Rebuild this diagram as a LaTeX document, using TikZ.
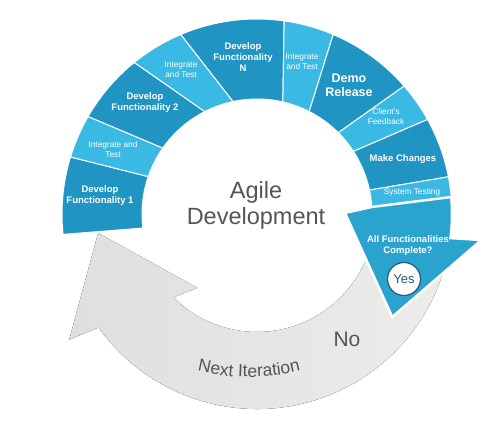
\documentclass[tikz,border=0pt]{standalone}
\usepackage{fontspec}
\setmainfont{Liberation Sans}
\usetikzlibrary{decorations.text}
\definecolor{devblue}{RGB}{32,148,194}
\definecolor{intblue}{RGB}{58,185,228}
\definecolor{askblue}{RGB}{42,164,206}
\definecolor{yesteal}{RGB}{26,96,122}
\definecolor{textgray}{RGB}{85,85,85}
\definecolor{loopdark}{RGB}{223,224,222}
\definecolor{looplight}{RGB}{236,236,235}
\tikzset{
  dev/.style={fill=devblue, draw=white, line width=1pt},
  integ/.style={fill=intblue, draw=white, line width=1pt},
  devlabel/.style={text=white, align=center, font=\fontsize{9.5}{11}\selectfont\bfseries},
  intlabel/.style={text=white, align=center, font=\fontsize{8.3}{10}\selectfont},
}
\begin{document}
\begin{tikzpicture}[x=1pt, y=1pt]
        \useasboundingbox (-257,-227) rectangle (243,214);
        % next iteration loop
        \fill[left color=loopdark, right color=looplight] (-10:195) arc[start angle=-10, end angle=-144.4, radius=195]
            -- (213.8:226) -- (186.8:160) -- (231:95) -- (225:118) arc[start angle=225, end angle=350, radius=118] -- cycle;
        % blue ring
        \draw[dev] (186:195) arc[start angle=186, end angle=163, radius=195] -- (161:115) arc[start angle=161, end angle=187, radius=115] -- cycle;
        \draw[integ] (163:195) arc[start angle=163, end angle=150, radius=195] -- (145:115) arc[start angle=145, end angle=161, radius=115] -- cycle;
        \draw[dev] (150:195) arc[start angle=150, end angle=129, radius=195] -- (117:115) arc[start angle=117, end angle=145, radius=115] -- cycle;
        \draw[integ] (129:195) arc[start angle=129, end angle=113, radius=195] -- (102:115) arc[start angle=102, end angle=117, radius=115] -- cycle;
        \draw[dev] (113:195) arc[start angle=113, end angle=82, radius=195] -- (77:115) arc[start angle=77, end angle=102, radius=115] -- cycle;
        \draw[integ] (82:195) arc[start angle=82, end angle=67, radius=195] -- (63:115) arc[start angle=63, end angle=77, radius=115] -- cycle;
        \draw[dev] (67:195) arc[start angle=67, end angle=41, radius=195] -- (45:115) arc[start angle=45, end angle=63, radius=115] -- cycle;
        \draw[integ] (41:195) arc[start angle=41, end angle=29, radius=195] -- (33:115) arc[start angle=33, end angle=45, radius=115] -- cycle;
        \draw[dev] (29:195) arc[start angle=29, end angle=11, radius=195] -- (12:115) arc[start angle=12, end angle=33, radius=115] -- cycle;
        \draw[integ] (11:195) arc[start angle=11, end angle=5, radius=195] -- (3.5:115) arc[start angle=3.5, end angle=12, radius=115] -- cycle;
        % decision arrow
        \draw[fill=askblue, draw=white, line width=2.5pt, line join=miter] (5:195) arc[start angle=5, end angle=-7.1, radius=195]
            -- (-6.6:226) -- (-37.3:170) -- (0.7:88) -- (3.5:115) -- cycle;
        % labels
        \node[devlabel] (D1) at (-157,18) {Develop\\Functionality 1};
        \node[intlabel] (I1) at (-144,64) {Integrate and\\Test};
        \node[devlabel] (D2) at (-112,111) {Develop\\Functionality 2};
        \node[intlabel] (I2) at (-76,144) {Integrate\\and Test};
        \node[devlabel] (DN) at (-14,157) {Develop\\Functionality\\N};
        \node[intlabel] (I3) at (45,152) {Integrate\\and Test};
        \node[devlabel, font=\fontsize{12.5}{14}\selectfont\bfseries] (R) at (92,129) {Demo\\Release};
        \node[intlabel] (F) at (129,97) {Client’s\\Feedback};
        \node[devlabel] (M) at (146,55) {Make Changes};
        \node[intlabel] (T) at (155,22) {System Testing};
        \node[devlabel] (Q) at (151,-32) {All Functionalities\\Complete?};
        \node[draw=yesteal, fill=white, circle, line width=1.2pt, minimum size=33pt, inner sep=0pt,
              text=yesteal, font=\fontsize{13}{13}\selectfont] (Y) at (147,-65) {Yes};
        \node[text=textgray, align=center, font=\fontsize{23.5}{26}\selectfont] (A) at (-1,9) {Agile\\Development};
        \node[text=textgray, font=\fontsize{21}{21}\selectfont] (N) at (90,-125) {No};
        \path[decorate, decoration={text along path, text align=center,
              text={|\fontsize{17.5}{17.5}\selectfont\color{textgray}|Next Iteration}}]
            (-8,57) ++(250:220) arc[start angle=250, end angle=290, radius=220];
\end{tikzpicture}
\end{document}
